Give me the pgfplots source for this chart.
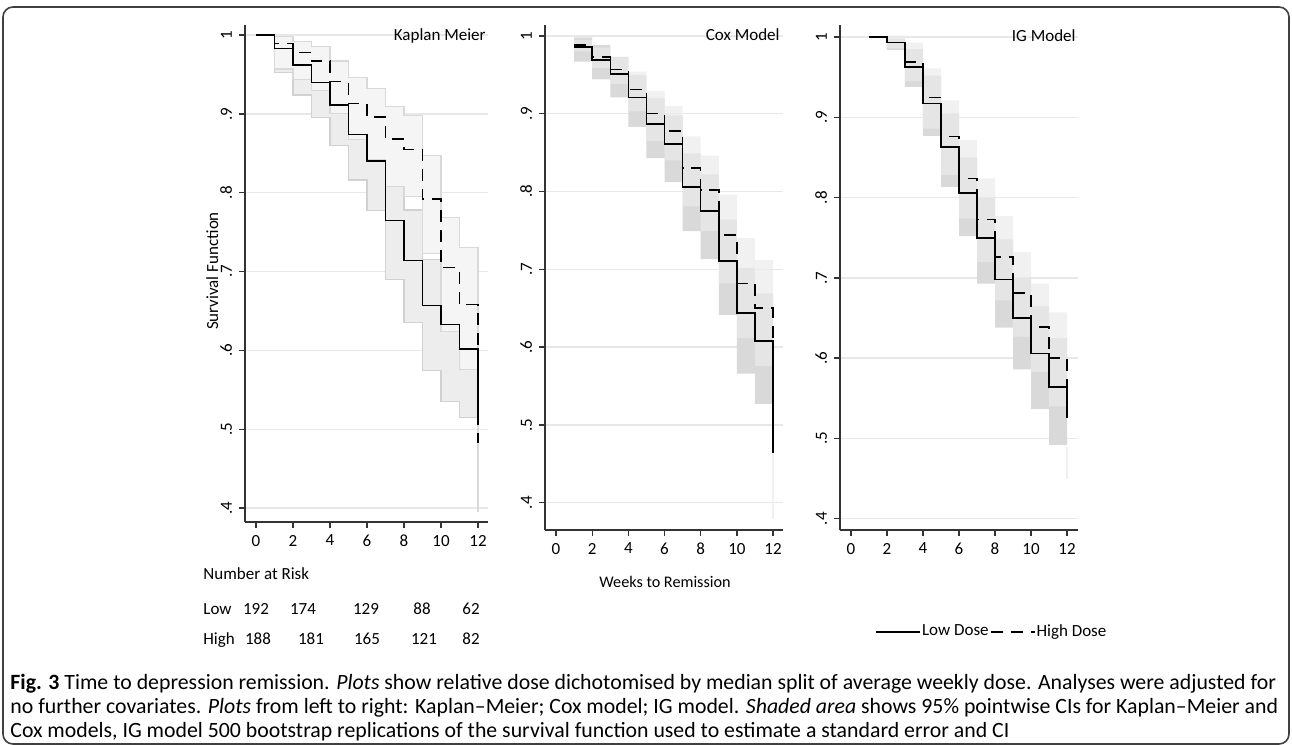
\documentclass[border=0pt]{standalone}
\usepackage{fontspec}
\setmainfont{Carlito}
\usepackage{pgfplots}
\pgfplotsset{compat=1.18}
\newcommand\fs{\fontsize{8.5pt}{10.5pt}\selectfont}
\newcommand\capfs{\fontsize{10.9pt}{12pt}\selectfont}

\pgfplotsset{
  survstyle/.style={
    scale only axis,
    axis lines*=left,
    axis line style={-, black!80, line width=0.7pt},
    tick style={black!80, line width=0.7pt},
    tick align=outside,
    major tick length=3pt,
    xtick={0,2,4,6,8,10,12},
    xticklabels={0,2,4,6,8,10,12},
    ytick={0.4,0.5,0.6,0.7,0.8,0.9,1},
    yticklabels={.4,.5,.6,.7,.8,.9,1},
    yticklabel style={rotate=90, anchor=south},
    ticklabel style={font=\fs},
    ymajorgrids,
    major grid style={black!9, line width=0.7pt},
    clip=false,
  },
  est/.style={const plot, black, line width=0.75pt},
  hi/.style={const plot, black, line width=0.75pt, dash pattern=on 6pt off 4pt},
  % CI band: upper steps left to right, then lower steps right to left
  band/.style={const plot, forget plot},
}

\begin{document}
\begin{tikzpicture}
\useasboundingbox (0pt,0pt) rectangle (646pt,-372.5pt);

% ---- Kaplan Meier
\begin{axis}[survstyle, at={(122.5pt,-261pt)}, anchor=south west,
  width=121.5pt, height=248.5pt,
  xmin=-0.595, xmax=12.54, ymin=0.3823, ymax=1.0127]
\addplot[band, fill=black!7, draw=black!18, line width=0.6pt] coordinates {
  (1,0.998)(2,0.989)(3,0.972)(4,0.947)(5,0.915)(6,0.884)(7,0.808)(8,0.778)(9,0.715)(10,0.69)(11,0.66)(12,0.66)
  (12,0.515)(11,0.535)(10,0.574)(9,0.635)(8,0.690)(7,0.777)(6,0.816)(5,0.860)(4,0.895)(3,0.924)(2,0.952)(1,0.952)} -- cycle;
\addplot[band, fill=black!4, draw=black!15, line width=0.6pt] coordinates {
  (1,0.998)(2,0.992)(3,0.985)(4,0.967)(5,0.946)(6,0.932)(7,0.909)(8,0.898)(9,0.847)(10,0.769)(11,0.730)(12,0.730)
  (12,0.576)(11,0.624)(10,0.723)(9,0.795)(8,0.808)(7,0.842)(6,0.867)(5,0.900)(4,0.930)(3,0.944)(2,0.957)(1,0.957)} -- cycle;
\addplot[black!15, line width=0.6pt, forget plot] coordinates {(12,0.6)(12,0.395)};
\addplot[hi] coordinates {(0,1)(1,0.989)(2,0.978)(3,0.967)(4,0.941)(5,0.913)(6,0.896)(7,0.868)(8,0.855)(9,0.792)(10,0.705)(11,0.658)(12,0.658)(12,0.482)};
\addplot[est] coordinates {(0,1)(1,0.983)(2,0.962)(3,0.940)(4,0.911)(5,0.874)(6,0.840)(7,0.765)(8,0.714)(9,0.657)(10,0.633)(11,0.602)(12,0.602)(12,0.506)};
\end{axis}

% ---- Cox model
\begin{axis}[survstyle, at={(272.5pt,-265pt)}, anchor=south west,
  width=119pt, height=252.5pt,
  xmin=-0.61, xmax=12.55, ymin=0.365, ymax=1.014]
\addplot[band, fill=black!15, draw=none] coordinates {
  (1,0.998)(2,0.988)(3,0.973)(4,0.950)(5,0.920)(6,0.898)(7,0.849)(8,0.822)(9,0.764)(10,0.702)(11,0.669)(12,0.669)
  (12,0.527)(11,0.566)(10,0.641)(9,0.713)(8,0.749)(7,0.812)(6,0.843)(5,0.883)(4,0.921)(3,0.944)(2,0.967)(1,0.967)} -- cycle;
\addplot[band, fill=black!8, fill opacity=0.72, draw=none] coordinates {
  (1,0.995)(2,0.985)(3,0.973)(4,0.954)(5,0.929)(6,0.910)(7,0.871)(8,0.846)(9,0.796)(10,0.740)(11,0.712)(12,0.712)
  (12,0.576)(11,0.612)(10,0.682)(9,0.749)(8,0.781)(7,0.840)(6,0.865)(5,0.903)(4,0.938)(3,0.959)(2,0.980)(1,0.980)} -- cycle;
\addplot[black!6, line width=0.6pt, forget plot] coordinates {(12,0.52)(12,0.379)};
\addplot[hi] coordinates {(1,0.988)(2,0.973)(3,0.957)(4,0.931)(5,0.900)(6,0.878)(7,0.830)(8,0.802)(9,0.744)(10,0.682)(11,0.650)(12,0.650)(12,0.516)};
\addplot[est] coordinates {(1,0.986)(2,0.969)(3,0.951)(4,0.921)(5,0.887)(6,0.861)(7,0.806)(8,0.775)(9,0.711)(10,0.644)(11,0.608)(12,0.608)(12,0.464)};
\end{axis}

% ---- IG model
\begin{axis}[survstyle, at={(420pt,-265pt)}, anchor=south west,
  width=119pt, height=252.5pt,
  xmin=-0.61, xmax=12.61, ymin=0.386, ymax=1.015,
  legend style={at={(0.147,-0.202)}, anchor=west, draw=none, fill=none,
    font=\fs, legend columns=2, inner sep=0pt, nodes={inner sep=0.6pt},
    /tikz/every even column/.append style={column sep=0pt}},
  legend image code/.code={\draw[#1] (0pt,0pt) -- (22pt,0pt);}]
\addplot[band, fill=black!15, draw=none] coordinates {
  (2,0.998)(3,0.985)(4,0.952)(5,0.905)(6,0.850)(7,0.800)(8,0.748)(9,0.700)(10,0.665)(11,0.625)(12,0.625)
  (12,0.492)(11,0.537)(10,0.586)(9,0.638)(8,0.693)(7,0.752)(6,0.813)(5,0.877)(4,0.938)(3,0.984)(2,0.984)} -- cycle;
\addplot[band, fill=black!8, fill opacity=0.72, draw=none] coordinates {
  (2,1.002)(3,0.993)(4,0.961)(5,0.921)(6,0.872)(7,0.824)(8,0.777)(9,0.732)(10,0.693)(11,0.657)(12,0.657)
  (12,0.540)(11,0.583)(10,0.627)(9,0.672)(8,0.720)(7,0.774)(6,0.828)(5,0.886)(4,0.945)(3,0.986)(2,0.986)} -- cycle;
\addplot[black!6, line width=0.6pt, forget plot] coordinates {(12,0.49)(12,0.449)};
\addplot[est] coordinates {(1,1)(2,0.993)(3,0.963)(4,0.917)(5,0.863)(6,0.806)(7,0.750)(8,0.698)(9,0.650)(10,0.606)(11,0.564)(12,0.564)(12,0.526)};
\addlegendentry{Low Dose}
\addplot[hi] coordinates {(1,1)(2,0.993)(3,0.969)(4,0.925)(5,0.876)(6,0.824)(7,0.773)(8,0.726)(9,0.681)(10,0.639)(11,0.600)(12,0.600)(12,0.555)};
\addlegendentry{High Dose}
\end{axis}

\begin{scope}[x=0.5pt, y=-0.5pt, every node/.style={font=\fs, inner sep=0pt}]
\node[anchor=base east] at (486,40) {Kaplan Meier};
\node[anchor=base east] at (780,40) {Cox Model};
\node[anchor=base east] at (1076,41) {IG Model};
\node[rotate=90, anchor=base] at (218,271) {Survival Function};
\node[anchor=base, font=\fontsize{8.1pt}{10pt}\selectfont] at (665,587) {Weeks to Remission};
\node[anchor=base west] at (203,579) {Number at Risk};
\node[anchor=base west] at (203,614) {Low};
\node[anchor=base west] at (203,644) {High};
\foreach \x/\n in {256/192, 303/174, 366/129, 422/88, 471/62}
  \node[anchor=base] at (\x,614) {\n};
\foreach \x/\n in {258/188, 311/181, 367/165, 424/121, 471/82}
  \node[anchor=base] at (\x,644) {\n};
\node[anchor=base west, font=\capfs] at (10,689) {\textbf{Fig. 3} Time to depression remission. \textit{Plots} show relative dose dichotomised by median split of average weekly dose. Analyses were adjusted for};
\node[anchor=base west, font=\capfs] at (10,713) {no further covariates. \textit{Plots} from left to right: Kaplan--Meier; Cox model; IG model. \textit{Shaded area} shows 95\% pointwise CIs for Kaplan--Meier and};
\node[anchor=base west, font=\capfs] at (10,737) {Cox models, IG model 500 bootstrap replications of the survival function used to estimate a standard error and CI};
\draw[black!75, line width=0.8pt, rounded corners=5pt] (3,7) rectangle (1289,744);
\end{scope}
\end{tikzpicture}
\end{document}
